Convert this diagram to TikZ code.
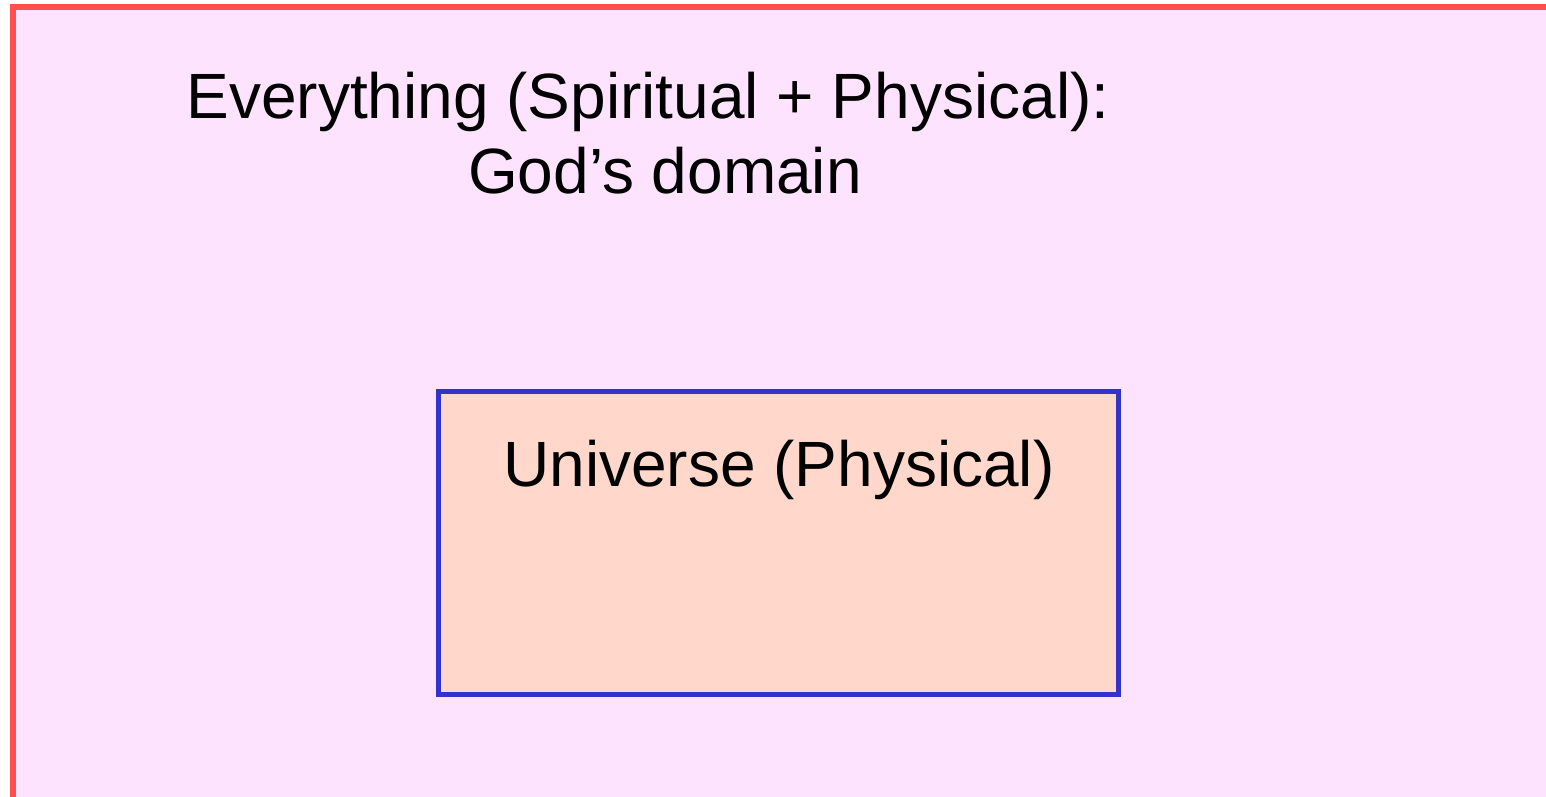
\documentclass[tikz,border=0pt]{standalone}
\usepackage{fontspec}
\setmainfont{Liberation Sans}
\definecolor{outerfill}{HTML}{FEE3FE}
\definecolor{outerline}{HTML}{FF5050}
\definecolor{innerfill}{HTML}{FFD7CB}
\definecolor{innerline}{HTML}{3333CC}
\begin{document}
\begin{tikzpicture}[x=1pt,y=-1pt,
  lbl/.style={font=\fontsize{64}{75}\selectfont, inner sep=0pt, anchor=base}]
\useasboundingbox (0,0) rectangle (1546,796);
\begin{scope}
\clip (0,0) rectangle (1546,796);
\fill[white] (0,0) rectangle (1546,796);
\draw[outerline, fill=outerfill, line width=6pt] (13,7) rectangle (1552,830);
\end{scope}
\draw[innerline, fill=innerfill, line width=5pt] (438,391) rectangle node[pos=0.5] (inner) {} (1118,694);
\node[lbl] (t1) at (648,118) {Everything (Spiritual + Physical):};
\node[lbl] (t2) at (665,193) {God’s domain};
\node[lbl] (t3) at (779,486) {Universe (Physical)};
\end{tikzpicture}
\end{document}
